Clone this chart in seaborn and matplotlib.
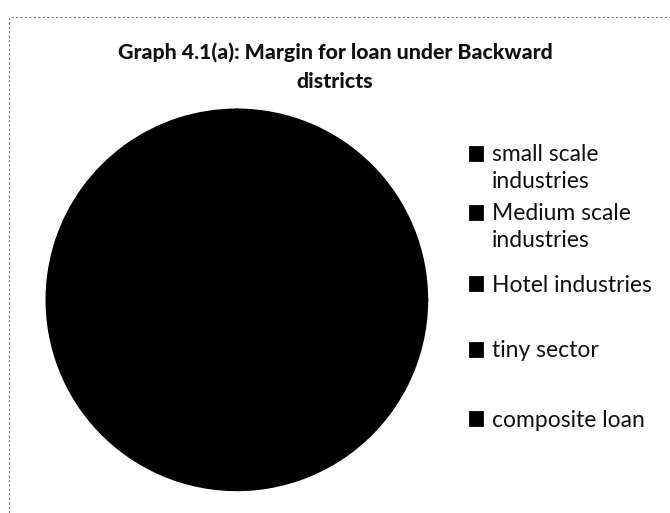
import matplotlib
matplotlib.use("Agg")
import matplotlib.pyplot as plt
import seaborn as sns
from matplotlib.patches import Rectangle
from matplotlib.legend_handler import HandlerPatch

sns.set_theme(style="white")
plt.rcParams["font.family"] = ["Lato", "DejaVu Sans"]

# Loan categories and their margin shares
categories = ["small scale\nindustries", "Medium scale\nindustries",
              "Hotel industries", "tiny sector", "composite loan"]
margins = [25, 30, 25, 10, 10]
title = "Graph 4.1(a): Margin for loan under Backward\ndistricts"

colors = ["#000000"] * len(categories)

fig = plt.figure(figsize=(6.7, 5.13), dpi=100)
ax = fig.add_axes([0.070, 0.045, 0.567, 0.741])
wedges, _ = ax.pie(margins, colors=colors, startangle=90, counterclock=False,
                   wedgeprops=dict(edgecolor="#000000", linewidth=2))
ax.set_xlim(-1, 1)
ax.set_ylim(-1, 1)
ax.set_aspect("equal")

fig.suptitle(title, x=0.5, y=0.918, fontsize=15.3, fontweight="black",
             linespacing=1.6, color="#111111")


def top_square(shift):
    # legend key placed level with the first line of a wrapped label
    def make(legend, orig_handle, xdescent, ydescent, width, height, fontsize):
        return Rectangle((-xdescent, -ydescent + shift * fontsize), width, height)
    return HandlerPatch(patch_func=make)


# one legend block per entry, stacked down the right-hand side
entry_tops = [0.741, 0.626, 0.487, 0.359, 0.224]
for w, lab, top in zip(wedges, categories, entry_tops):
    n_lines = lab.count("\n") + 1
    leg = fig.legend([w], [lab], loc="upper left",
                     bbox_to_anchor=(0.685, top), frameon=False,
                     fontsize=16.5, handlelength=0.5, handleheight=0.5,
                     handletextpad=0.45, labelcolor="#111111", borderpad=0,
                     handler_map={w: top_square(0.66 if n_lines > 1 else 0.0)})
    for t in leg.get_texts():
        t.set_linespacing(1.35)

# dashed chart border
fig.add_artist(Rectangle((0.013, -0.02), 1.0, 0.987, transform=fig.transFigure,
                         fill=False, edgecolor="#777777", linewidth=0.8,
                         linestyle=(0, (2, 2))))

fig.savefig("out.png", dpi=100)
